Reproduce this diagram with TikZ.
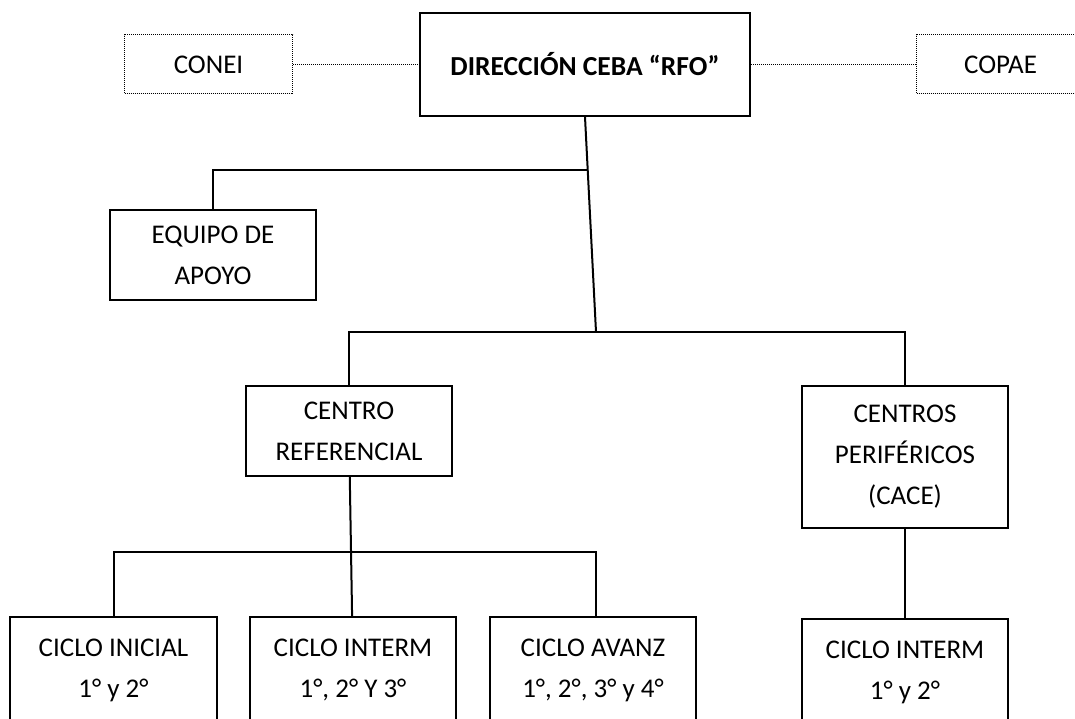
\documentclass[tikz,border=0pt]{standalone}
\usepackage{fontspec}
\setmainfont{Carlito}
\usetikzlibrary{positioning}
\begin{document}
\begin{tikzpicture}[x=1pt, y=-1pt, line width=2pt,
    box/.style = {draw, align=center, minimum width=206pt, font=\fontsize{27}{41}\selectfont},
    dotbox/.style = {draw, densely dotted, line width=1pt, minimum width=168pt, minimum height=59pt, font=\fontsize{27}{41}\selectfont},
    dotline/.style = {densely dotted, line width=1pt}]
  \useasboundingbox (0,0) rectangle (1075,719);
  \clip (0,0) rectangle (1075,719);
  \node[box, minimum width=330pt, minimum height=103pt, font=\fontsize{27.5}{41}\selectfont\bfseries] (dir) at (585,64.5) {DIRECCIÓN CEBA “RFO”};
  \node[dotbox] (conei) [left=126pt of dir] {CONEI};
  \node[dotbox] (copae) [right=165pt of dir] {COPAE};
  \node[box, minimum height=90pt] (equipo) at (213,255) {EQUIPO DE\\APOYO};
  \node[box, minimum height=90pt] (cref) at (349,431) {CENTRO\\REFERENCIAL};
  \node[box, minimum height=142pt] (cper) at (905,457) {CENTROS\\PERIFÉRICOS\\(CACE)};
  \node[box, minimum height=106pt, minimum width=207pt] (c1) at (113.5,670) {CICLO INICIAL\\1° y 2°};
  \node[box, minimum height=106pt] (c2) [right=31pt of c1] {CICLO INTERM\\1°, 2° Y 3°};
  \node[box, minimum height=106pt] (c3) [right=32pt of c2] {CICLO AVANZ\\1°, 2°, 3° y 4°};
  \node[box, minimum height=106pt] (c4) [below=89pt of cper] {CICLO INTERM\\1° y 2°};
  %
  \coordinate (j1) at (588,170);
  \coordinate (j2) at (596,332);
  \coordinate (j3) at (596,552);
  \draw[dotline] (conei) -- (dir);
  \draw[dotline] (dir) -- (copae);
  \draw (dir.south) -- (j2);
  \draw (equipo.north) |- (j1);
  \draw (cref.north) |- (j2) -| (cper.north);
  \draw (cref) -- (c2);
  \draw (c1.north) |- (j3) -- (c3.north -| j3);
  \draw (cper) -- (c4);
\end{tikzpicture}
\end{document}
